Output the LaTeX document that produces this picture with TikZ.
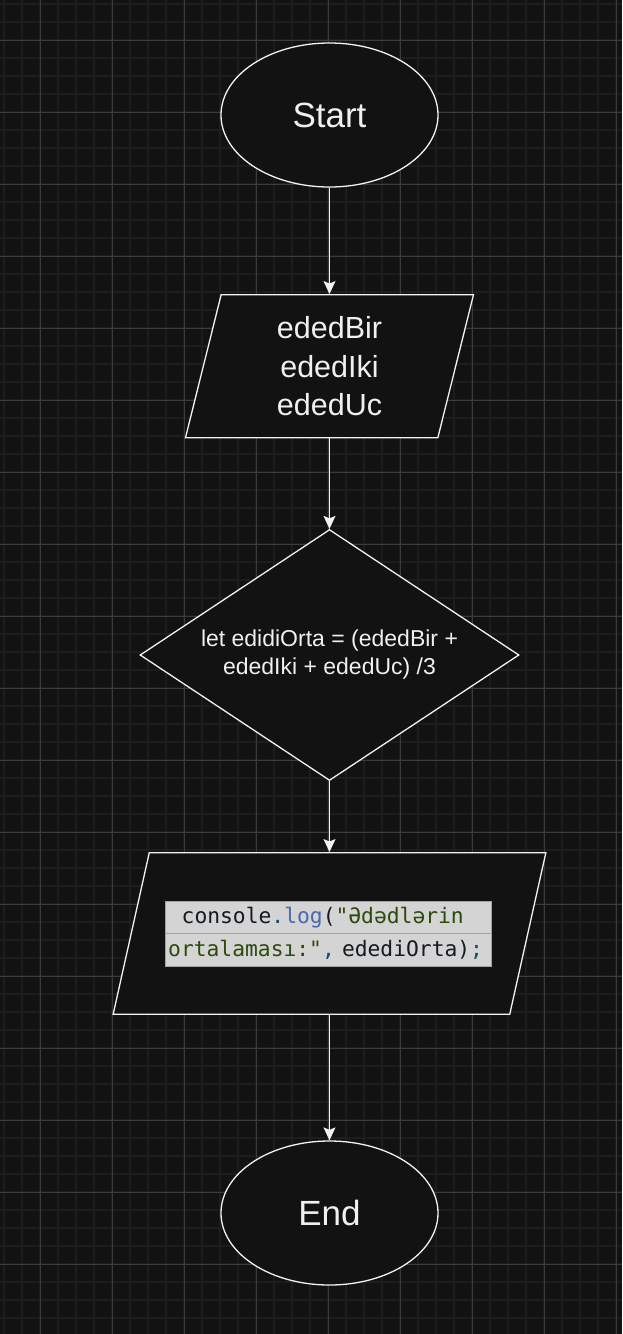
\documentclass[tikz,border=0pt]{standalone}
\usepackage{fontspec}
\setmainfont{Liberation Sans}
\newfontfamily\codefont{DejaVu Sans Mono}
\usetikzlibrary{%
  arrows.meta,%
  shapes.geometric%
}
\definecolor{bgdark}{HTML}{121212}
\definecolor{gridminor}{HTML}{1D1D1D}
\definecolor{gridmajor}{HTML}{3B3B3B}
\definecolor{linewhite}{HTML}{F2F2F2}
\definecolor{textwhite}{HTML}{F0F0F0}
\definecolor{codebg}{HTML}{D4D4D4}
\definecolor{codeframe}{HTML}{A3A3A3}
\definecolor{codedark}{HTML}{141A20}
\definecolor{codeblue}{HTML}{4A68B0}
\definecolor{codegreen}{HTML}{2C4A0C}
\definecolor{codeteal}{HTML}{0F4D6B}
\tikzset{>={Stealth[length=13pt,width=12pt,inset=2.5pt]}}
\tikzset{
  shapebox/.style={draw=linewhite,fill=bgdark,line width=1.3pt,
    text=textwhite,inner sep=0pt,align=center},
  terminal/.style={shapebox,ellipse,minimum width=217pt,
    minimum height=144pt,font=\fontsize{35}{42}\selectfont},
  iobox/.style={shapebox,trapezium,trapezium stretches body,
    trapezium left angle=#1,trapezium right angle=180-#1},
  decision/.style={shapebox,diamond,shape aspect=1.5,
    minimum width=379pt,minimum height=251pt,
    font=\fontsize{23}{28}\selectfont},
  boxtext/.style={text=textwhite,align=center,inner sep=0pt},
  codeline/.style={draw=codeframe,fill=codebg,line width=0.8pt,
    text width=321pt,inner xsep=2.5pt,inner ysep=0pt,
    minimum height=32.4pt,align=left,text=codedark,
    font=\codefont\fontsize{21.3}{25}\selectfont},
  flowline/.style={draw=linewhite,line width=1.3pt}
}

\begin{document}
\begin{tikzpicture}[x=1pt,y=-1pt]
      \useasboundingbox (0,0) rectangle (622,1334);
      \fill[bgdark] (0,0) rectangle (622,1334);
      % grid
      \foreach \x in {4,22,...,620}
        \draw[gridminor,line width=1.8pt] (\x,0) -- (\x,1334);
      \foreach \y in {4,22,...,1330}
        \draw[gridminor,line width=1.8pt] (0,\y) -- (622,\y);
      \foreach \x in {40,112,...,616}
        \draw[gridmajor,line width=1pt] (\x,0) -- (\x,1334);
      \foreach \y in {40,112,...,1300}
        \draw[gridmajor,line width=1pt] (0,\y) -- (622,\y);

      % flowchart
      \node[terminal] (start) at (329.5,115) {Start};
      \node[iobox=76,inner ysep=71.5pt,minimum width=288pt]
        (input) at (329.5,366.2) {};
      \node[boxtext,font=\fontsize{30.5}{38.5}\selectfont]
        (inputtext) at (input.center) {ededBir\\ededIki\\ededUc};
      \node[decision] (average) at (329.5,655)
        {let edidiOrta = (ededBir +\\ededIki + ededUc) /3};
      \node[iobox=77.4,inner ysep=80.8pt,minimum width=432.7pt]
        (output) at (329.5,933.5) {};
      \node[codeline] (logone) at (328.7,917.5)
        {\hspace*{13.5pt}console{\color{codeteal}.}{\color{codeblue}log}(%
        {\color{codegreen}"Ədədlərin}};
      \node[codeline] (logtwo) at (328.7,949.9)
        {{\color{codegreen}ortalaması:"}{\color{codeteal},} edediOrta)%
        {\color{codeteal};}};
      \node[terminal] (end) at (329.5,1213) {End};

      \draw[->,flowline] (start.south) -- (input.north);
      \draw[->,flowline] (input.south) -- (average.north);
      \draw[->,flowline] (average.south) -- (output.north);
      \draw[->,flowline] (output.south) -- (end.north);
    \end{tikzpicture}
\end{document}
